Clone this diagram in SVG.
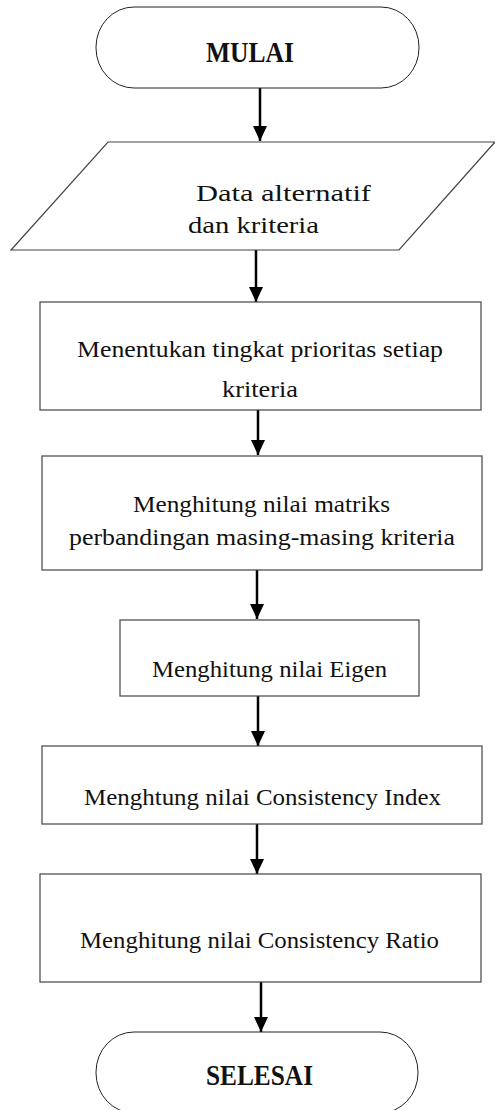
<svg xmlns="http://www.w3.org/2000/svg" width="495" height="1110" viewBox="0 0 495 1110">
<style>
.shape{fill:#fff;stroke:#444;stroke-width:1.2}
.term{fill:#fff;stroke:#222;stroke-width:1}
.t{font-family:"Liberation Serif","DejaVu Serif",serif;font-size:23px;fill:#111}
.b{font-family:"Liberation Serif","DejaVu Serif",serif;font-size:29px;font-weight:bold;fill:#111}
.c{stroke:#000;stroke-width:2.5;fill:none;marker-end:url(#ah)}
</style>
<defs>
<marker id="ah" viewBox="0 0 15 14" refX="15" refY="7" markerWidth="15" markerHeight="14" markerUnits="userSpaceOnUse" orient="auto">
<path d="M0,0 L15,7 L0,14 Z" fill="#000"/>
</marker>
</defs>
<rect width="495" height="1110" fill="#fff"/>
<g id="connectors">
<line class="c" x1="260" y1="88" x2="260" y2="141"/>
<line class="c" x1="256" y1="250" x2="256" y2="302"/>
<line class="c" x1="258" y1="405" x2="258" y2="455"/>
<line class="c" x1="257" y1="570" x2="257" y2="619"/>
<line class="c" x1="258" y1="696" x2="258" y2="746"/>
<line class="c" x1="257" y1="824" x2="257" y2="874"/>
<line class="c" x1="261" y1="982" x2="261" y2="1032"/>
</g>
<g id="mulai">
<rect class="term" x="96" y="7" width="323" height="81" rx="38" ry="40"/>
<text class="b" x="206" y="62" textLength="88" lengthAdjust="spacingAndGlyphs">MULAI</text>
</g>
<g id="data">
<polygon class="shape" points="108,142 495,142 399,250 11,250"/>
<text class="t" x="196" y="201" textLength="175" lengthAdjust="spacingAndGlyphs">Data alternatif</text>
<text class="t" x="188" y="233" textLength="131" lengthAdjust="spacingAndGlyphs">dan kriteria</text>
</g>
<g id="prioritas">
<rect class="shape" x="40" y="302" width="441" height="108"/>
<text class="t" x="77" y="357" textLength="366" lengthAdjust="spacingAndGlyphs">Menentukan tingkat prioritas setiap</text>
<text class="t" x="222" y="397" textLength="76" lengthAdjust="spacingAndGlyphs">kriteria</text>
</g>
<g id="matriks">
<rect class="shape" x="42" y="456" width="440" height="114"/>
<text class="t" x="133" y="512" textLength="257" lengthAdjust="spacingAndGlyphs">Menghitung nilai matriks</text>
<text class="t" x="69" y="545" textLength="386" lengthAdjust="spacingAndGlyphs">perbandingan masing-masing kriteria</text>
</g>
<g id="eigen">
<rect class="shape" x="120" y="620" width="299" height="76"/>
<text class="t" x="152" y="677" textLength="235" lengthAdjust="spacingAndGlyphs">Menghitung nilai Eigen</text>
</g>
<g id="ci">
<rect class="shape" x="42" y="746" width="440" height="78"/>
<text class="t" x="84" y="805" textLength="357" lengthAdjust="spacingAndGlyphs">Menghtung nilai Consistency Index</text>
</g>
<g id="cr">
<rect class="shape" x="40" y="874" width="441" height="108"/>
<text class="t" x="80" y="948" textLength="359" lengthAdjust="spacingAndGlyphs">Menghitung nilai Consistency Ratio</text>
</g>
<g id="selesai">
<rect class="term" x="96" y="1032" width="322" height="81" rx="38" ry="40"/>
<text class="b" x="206" y="1085" textLength="107" lengthAdjust="spacingAndGlyphs">SELESAI</text>
</g>
</svg>
